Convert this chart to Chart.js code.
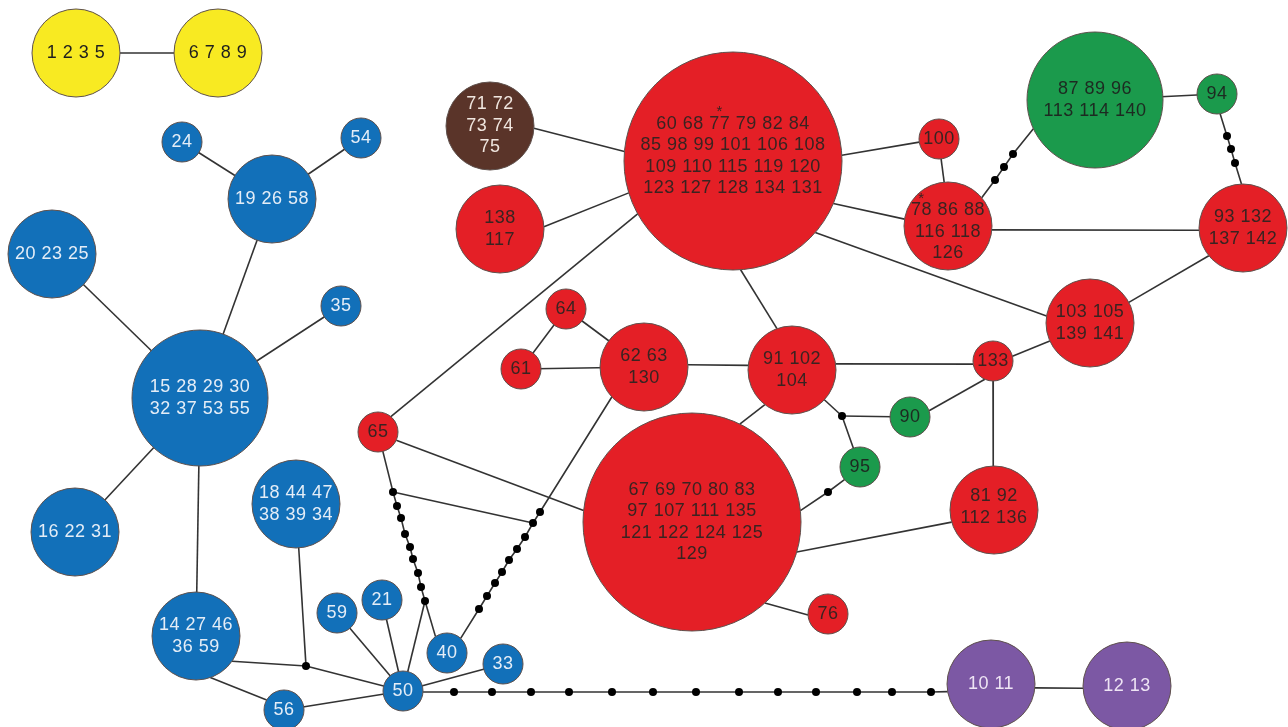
<!DOCTYPE html>
<html>
<head>
<meta charset="utf-8">
<script src="https://cdn.jsdelivr.net/npm/chart.js@4/dist/chart.umd.min.js"></script>
<style>
  html, body { margin: 0; padding: 0; background: #ffffff; }
  #wrap { width: 1288px; height: 727px; position: relative; }
</style>
</head>
<body>
<div id="wrap"><canvas id="net"></canvas></div>
<script>
// ---- Haplotype network data ----
// Sampled haplotypes: id, sample list (lines split by "\n", "*" marks a starred sample),
// lineage, frequency class and layout position.
const haplotypeIds = ['Y1','Y2','B24','B54','B19','B20','B35','B15','B16','B18','B14','B59','B21','B50','B56','B40','B33',
  'R65','R64','R61','R62','R91','RBot','R76','RTop','N71','R138','R100','R78','G87','G94','R93','R103','R133','G90','G95','R81','P10','P12'];
const haplotypeLabels = ['1 2 3 5','6 7 8 9','24','54','19 26 58','20 23 25','35','15 28 29 30\n32 37 53 55','16 22 31',
  '18 44 47\n38 39 34','14 27 46\n36 59','59','21','50','56','40','33',
  '65','64','61','62 63\n130','91 102\n104','67 69 70 80 83\n97 107 111 135\n121 122 124 125\n129','76',
  '60 68 *77 79 82 84\n85 98 99 101 106 108\n109 110 115 119 120\n123 127 128 134 131',
  '71 72\n73 74\n75','138\n117','100','*78 86 88\n116 118\n126','87 89 96\n113 114 140','94','93 132\n137 142',
  '103 105\n139 141','133','90','95','81 92\n112 136','10 11','12 13'];
const haplotypeLineage = ['yellow','yellow','blue','blue','blue','blue','blue','blue','blue','blue','blue','blue','blue','blue','blue','blue','blue',
  'red','red','red','red','red','red','red','red','brown','red','red','red','green','green','red','red','red','green','green','red','purple','purple'];
const haplotypeClass = [2,2,1,1,2,2,1,3,2,2,2,1,1,1,1,1,1,
  1,1,1,2,2,4,1,4,2,2,1,2,3,1,2,2,1,1,1,2,2,2];
const layoutX = [76,218,182,361,272,52,341,200,75,296,196,337,382,403,284,447,503,
  378,566,521,644,792,692,828,733,490,500,939,948,1095,1217,1243,1090,993,910,860,994,991,1127];
const layoutY = [53,53,142,138,199,254,306,398,532,504,636,613,600,691,710,653,664,
  432,309,369,367,370,522,614,161,126,229,139,226,100,94,228,323,361,417,467,510,684,686];

// Median vectors (inferred, unsampled nodes)
const medianIds = ['M1','M2','M3','M4','M5'];
const medianX = [306,842,393,425,533];
const medianY = [666,416,492,601,523];

// Single-step connections
const links = [
  ['Y1','Y2'],
  ['B24','B19'],['B54','B19'],['B19','B15'],['B20','B15'],['B35','B15'],['B16','B15'],['B15','B14'],
  ['B14','M1'],['B18','M1'],['M1','B50'],['B14','B56'],['B56','B50'],['B59','B50'],['B21','B50'],
  ['M4','B50'],['M4','B40'],['B33','B50'],
  ['N71','RTop'],['R138','RTop'],['R65','RTop'],['RTop','R100'],['RTop','R78'],['RTop','R103'],['RTop','R91'],
  ['R100','R78'],['G87','G94'],['R78','R93'],['R93','R103'],
  ['R64','R61'],['R64','R62'],['R61','R62'],['R62','R91'],['R91','R133'],['R91','RBot'],['R91','M2'],
  ['M2','G90'],['M2','G95'],['G90','R133'],['R133','R103'],['R133','R81'],['R81','RBot'],['RBot','R76'],
  ['R65','RBot'],['R65','M3'],['M3','M5'],
  ['P10','P12']
];

// Multi-step connections: end nodes and the missing mutational steps along them
const chainEnds = [['R78','G87'],['G94','R93'],['G95','RBot'],['M3','M4'],['B40','M5'],['M5','R62'],['B50','P10']];
const chainStepX = [
  [995,1004,1013],
  [1227,1231,1235],
  [828],
  [397,401,405,410,413,418,421],
  [479,487,495,502,509,517,525],
  [540],
  [454,492,531,569,612,653,696,739,778,816,857,892,931]
];
const chainStepY = [
  [180,167,154],
  [136,149,163],
  [492],
  [506,518,534,547,559,573,587],
  [609,596,583,572,560,549,537],
  [512],
  [692,692,692,692,692,692,692,692,692,692,692,692,692]
];

// Where a connection meets a circle's rim (degrees, screen orientation); others aim at the centre
const linkPorts = {
  'N71-RTop': [3, 185], 'R138-RTop': [-3, 163], 'R65-RTop': [-50, 151], 'RTop-R100': [-3, 171],
  'RTop-R78': [23, 189], 'RTop-R103': [41, 189], 'RTop-R91': [86, 250], 'R100-R78': [84, 265],
  'R78-R93': [5, 177], 'R93-R103': [141, 332], 'R62-R91': [-3, 186], 'R91-R133': [-8, 171],
  'R91-RBot': [128, 296], 'G90-R133': [-18, 114], 'R133-R103': [-14, 156], 'R133-R81': [90, 269],
  'R81-RBot': [164, 16], 'RBot-R76': [48, 177], 'R65-RBot': [24, 186], 'B14-M1': [35, null],
  'B14-B56': [71, 210], 'P10-P12': [5, 177], 'M4-B40': [null, 235],
  'R78-G87': [-40, 155], 'G94-R93': [81, 268], 'G95-RBot': [141, -6], 'B40-M5': [-47, null],
  'M5-R62': [null, 137], 'B50-P10': [3, 170]
};

// ---- Styling ----
const lineageFill = { yellow:'#f8ea22', blue:'#1270b9', red:'#e41f26', green:'#1b9a4c', brown:'#5a3429', purple:'#7c58a4' };
const lineageText = { yellow:'#1e1e1e', blue:'#e4edf7', red:'#3a2321', green:'#1d2a21', brown:'#f0e6df', purple:'#eee4f4' };
const classRadius = { 1:20, 2:44, 3:68, 4:109 };
const labelShift = { RTop: -5, R78: 6, R81: -3 };   // vertical nudge of a label block, px
const edgeColor = '#333333';

// ---- Build datasets ----
const node = {};
haplotypeIds.forEach((id, i) => { node[id] = { x: layoutX[i], y: layoutY[i], r: classRadius[haplotypeClass[i]] }; });
medianIds.forEach((id, i) => { node[id] = { x: medianX[i], y: medianY[i], r: 0 }; });

// end point of a connection on a node: its centre, or its rim at the given angle
// (one layout unit is one pixel on both axes)
function endPoint(id, angle) {
  const n = node[id];
  if (angle === null || angle === undefined) return { x: n.x, y: n.y };
  const a = angle * Math.PI / 180;
  return { x: n.x + n.r * Math.cos(a), y: n.y + n.r * Math.sin(a) };
}
function ends(a, b) {
  const p = linkPorts[a + '-' + b] || [null, null];
  return [endPoint(a, p[0]), endPoint(b, p[1])];
}

const edgeStyle = { type:'line', borderColor: edgeColor, borderWidth: 1.6, pointRadius: 0, fill: false, tension: 0, order: 3 };

const datasets = [];

// haplotype circles (drawn on top)
datasets.push({
  type: 'bubble',
  label: 'haplotypes',
  order: 0,
  data: haplotypeIds.map(id => ({ x: node[id].x, y: node[id].y, r: node[id].r })),
  backgroundColor: haplotypeLineage.map(l => lineageFill[l]),
  borderColor: '#5e504c',
  borderWidth: 1,
  hoverRadius: 0
});

// median vectors and mutational steps
const stepPoints = medianIds.map((id, i) => ({ x: medianX[i], y: medianY[i] }));
chainStepX.forEach((xs, c) => xs.forEach((x, k) => stepPoints.push({ x, y: chainStepY[c][k] })));
datasets.push({
  type: 'scatter',
  label: 'steps',
  order: 1,
  data: stepPoints,
  pointRadius: 4,
  pointBackgroundColor: '#000',
  pointBorderWidth: 0,
  showLine: false
});

// edges
links.forEach(([a, b]) => {
  datasets.push(Object.assign({ label: a + '-' + b, data: ends(a, b) }, edgeStyle));
});
chainEnds.forEach(([a, b], c) => {
  const [pa, pb] = ends(a, b);
  const mids = chainStepX[c].map((x, k) => ({ x, y: chainStepY[c][k] }));
  datasets.push(Object.assign({ label: a + '-' + b, data: [pa, ...mids, pb] }, edgeStyle));
});

// ---- Sample-list labels inside the circles ----
const labelPlugin = {
  id: 'haplotypeLabels',
  afterDatasetsDraw(chart) {
    const meta = chart.getDatasetMeta(0);
    const ctx = chart.ctx;
    const fontSize = 18, lineH = 21.5;
    const font = fontSize + 'px "Liberation Sans", Arial, Helvetica, sans-serif';
    ctx.save();
    if ('letterSpacing' in ctx) ctx.letterSpacing = '0.5px';
    ctx.textBaseline = 'middle';
    ctx.textAlign = 'left';
    meta.data.forEach((el, i) => {
      const lines = haplotypeLabels[i].split('\n');
      const color = lineageText[haplotypeLineage[i]];
      const y0 = el.y + (labelShift[haplotypeIds[i]] || 0) - (lines.length - 1) * lineH / 2;
      lines.forEach((raw, li) => {
        const y = y0 + li * lineH;
        const starAt = raw.indexOf('*');
        const text = raw.replace('*', '');
        ctx.font = font;
        const w = ctx.measureText(text).width;
        const x = el.x - w / 2;
        ctx.fillStyle = color;
        ctx.fillText(text, x, y);
        if (starAt >= 0) {
          const before = ctx.measureText(text.slice(0, starAt)).width;
          const tokenEnd = text.indexOf(' ', starAt);
          const token = text.slice(starAt, tokenEnd < 0 ? text.length : tokenEnd);
          const tw = ctx.measureText(token).width;
          ctx.font = '15px "Liberation Sans", Arial, sans-serif';
          ctx.textAlign = 'center';
          ctx.fillText('*', x + before + tw / 2, y - 12);
          ctx.textAlign = 'left';
        }
      });
    });
    ctx.restore();
  }
};

new Chart(document.getElementById('net'), {
  type: 'scatter',
  data: { datasets },
  options: {
    responsive: true,
    maintainAspectRatio: false,
    animation: false,
    events: [],
    layout: { padding: 0, autoPadding: false },
    plugins: { legend: { display: false }, tooltip: { enabled: false } },
    scales: {
      x: { type: 'linear', min: 0, max: 1288, display: false },
      y: { type: 'linear', min: 0, max: 727, reverse: true, display: false }
    }
  },
  plugins: [labelPlugin]
});
</script>
</body>
</html>
